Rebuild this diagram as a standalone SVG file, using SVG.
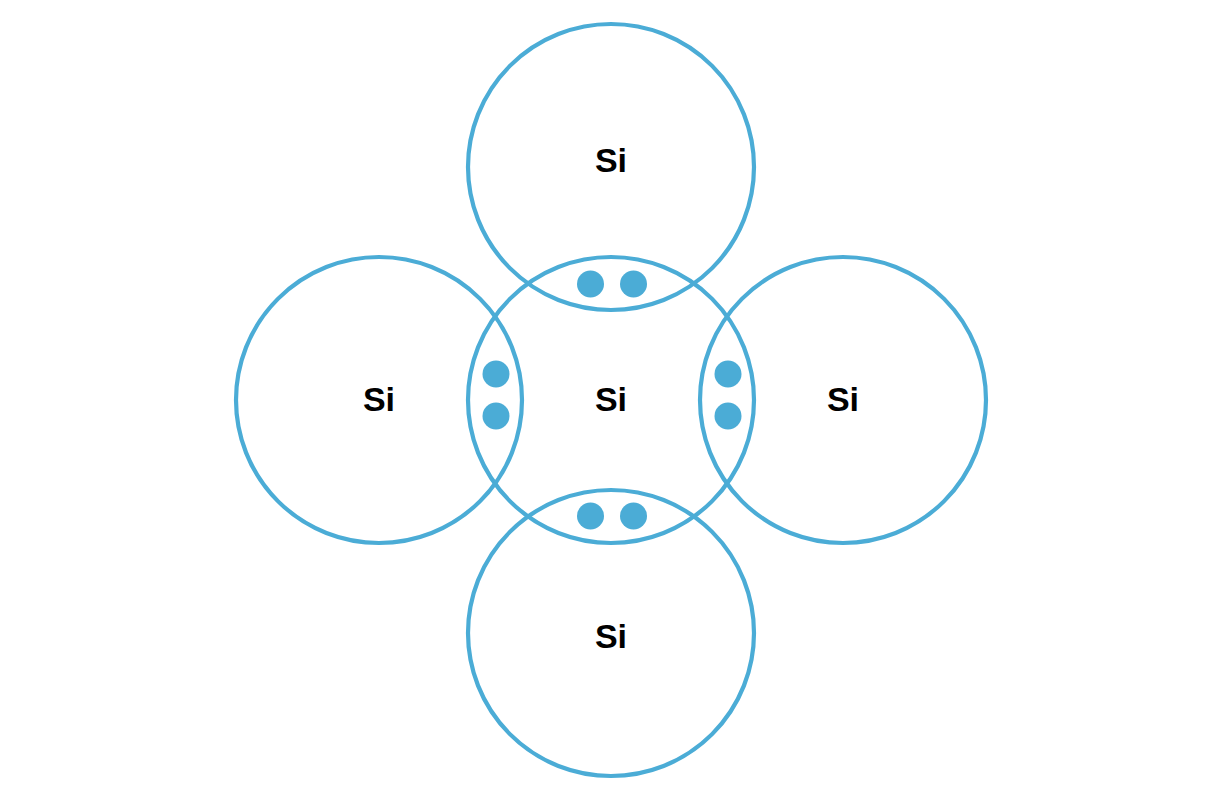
<svg xmlns="http://www.w3.org/2000/svg" width="1223" height="800" viewBox="0 0 1223 800">
<style>
.atom{fill:none;stroke:#4BACD6;stroke-width:4.2}
.e{fill:#4BACD6}
.lbl{font-family:"Liberation Sans",Arial,sans-serif;font-weight:bold;font-size:34px;fill:#000;text-anchor:middle}
</style>
<rect width="1223" height="800" fill="#fff"/>
<g id="si-center"><circle class="atom" cx="611" cy="400" r="143"/><text class="lbl" x="611" y="411">Si</text></g>
<g id="si-top"><circle class="atom" cx="611" cy="167" r="143"/><text class="lbl" x="611" y="172">Si</text></g>
<g id="si-left"><circle class="atom" cx="379" cy="400" r="143"/><text class="lbl" x="379" y="411">Si</text></g>
<g id="si-right"><circle class="atom" cx="843" cy="400" r="143"/><text class="lbl" x="843" y="411">Si</text></g>
<g id="si-bottom"><circle class="atom" cx="611" cy="633" r="143"/><text class="lbl" x="611" y="648">Si</text></g>
<g id="electrons">
<circle class="e" cx="590.5" cy="284" r="13.5"/><circle class="e" cx="633.5" cy="284" r="13.5"/>
<circle class="e" cx="496" cy="374" r="13.5"/><circle class="e" cx="496" cy="416" r="13.5"/>
<circle class="e" cx="728" cy="374" r="13.5"/><circle class="e" cx="728" cy="416" r="13.5"/>
<circle class="e" cx="590.5" cy="516" r="13.5"/><circle class="e" cx="633.5" cy="516" r="13.5"/>
</g>
</svg>
